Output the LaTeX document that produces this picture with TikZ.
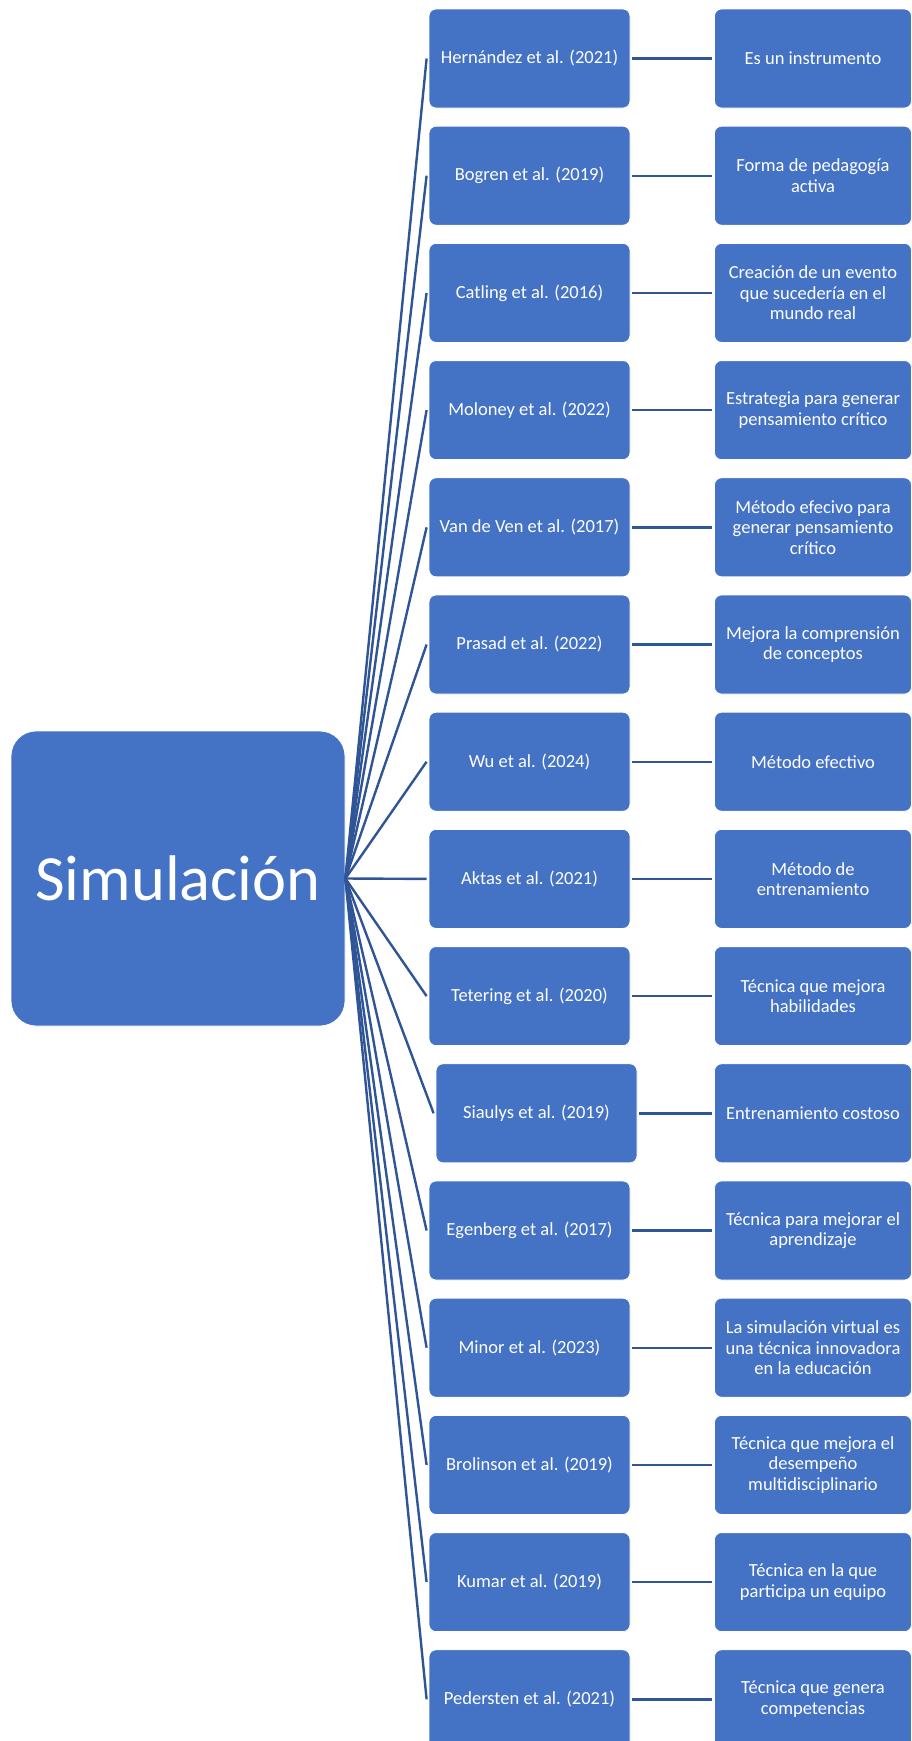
\documentclass[tikz,border=0pt]{standalone}
\usepackage{fontspec}
\setmainfont{Carlito}
\definecolor{boxblue}{HTML}{4472C4}
\definecolor{linkblue}{HTML}{2F5597}
\tikzset{
 box/.style={draw=white, line width=0.8pt, fill=boxblue, rounded corners=7pt, text=white, align=center, font=\fontsize{18.5}{20.5}\selectfont, inner sep=0pt},
 midbox/.style={box, minimum width=201pt, minimum height=99pt},
 rightbox/.style={box, minimum width=197pt, minimum height=99pt},
 rootbox/.style={box, rounded corners=25pt, minimum width=334pt, minimum height=295pt, font=\fontsize{64.5}{70}\selectfont},
 link/.style={draw=linkblue, line width=2.4pt},
}
\begin{document}
\begin{tikzpicture}[x=1pt,y=-1pt]
\useasboundingbox (0,0) rectangle (912,1741);
\clip (0,0) rectangle (912,1741);
\node[rootbox] (root) at (178,878.5) {Simulación};
\foreach \i/\dx/\a/\b in {
 1/0/{Hernández et al. (2021)}/{Es un instrumento},
 2/0/{Bogren et al. (2019)}/{Forma de pedagogía\\activa},
 3/0/{Catling et al. (2016)}/{Creación de un evento\\que sucedería en el\\mundo real},
 4/0/{Moloney et al. (2022)}/{Estrategia para generar\\pensamiento crítico},
 5/0/{Van de Ven et al. (2017)}/{Método efecivo para\\generar pensamiento\\crítico},
 6/0/{Prasad et al. (2022)}/{Mejora la comprensión\\de conceptos},
 7/0/{Wu et al. (2024)}/{Método efectivo},
 8/0/{Aktas et al. (2021)}/{Método de\\entrenamiento},
 9/0/{Tetering et al. (2020)}/{Técnica que mejora\\habilidades},
 10/7/{Siaulys et al. (2019)}/{Entrenamiento costoso},
 11/0/{Egenberg et al. (2017)}/{Técnica para mejorar el\\aprendizaje},
 12/0/{Minor et al. (2023)}/{La simulación virtual es\\una técnica innovadora\\en la educación},
 13/0/{Brolinson et al. (2019)}/{Técnica que mejora el\\desempeño\\multidisciplinario},
 14/0/{Kumar et al. (2019)}/{Técnica en la que\\participa un equipo},
 15/0/{Pedersten et al. (2021)}/{Técnica que genera\\competencias}}{
  \node[midbox] (m\i) at (529.5+\dx, 58.5+117.2*\i-117.2) {\a};
  \node[rightbox] (r\i) at (813, 58.5+117.2*\i-117.2) {\b};
  \draw[link] (root.east) -- ([xshift=-2pt]m\i.west);
  \draw[link] ([xshift=2pt]m\i.east) -- ([xshift=-2pt]r\i.west);
}
\end{tikzpicture}
\end{document}
